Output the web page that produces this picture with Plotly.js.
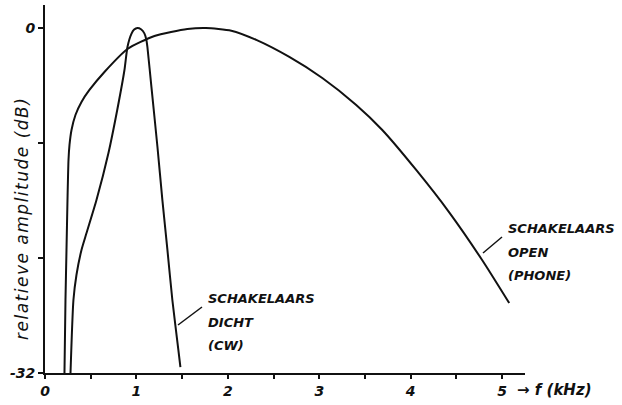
<!DOCTYPE html>
<html>
<head>
<meta charset="utf-8">
<script src="https://cdn.plot.ly/plotly-3.0.1.min.js"></script>
<style>html,body{margin:0;padding:0;background:#fff;}</style>
</head>
<body>
<div id="chart" style="width:622px;height:405px;"></div>
<script>
// Data (f in kHz, amplitude in dB)
const phoneX = [0.213, 0.224, 0.235, 0.246, 0.257, 0.268, 0.290, 0.333, 0.399, 0.486, 0.650, 0.902, 1.197, 1.557, 1.760, 2.038, 2.311, 2.672, 3.033, 3.404, 3.689, 4.060, 4.421, 4.781, 5.077];
const phoneY = [-32, -25.23, -20.59, -15.96, -12.24, -10.85, -9.46, -8.07, -6.86, -5.75, -4.08, -1.95, -0.74, -0.1, 0, -0.25, -1.11, -2.69, -4.64, -7.14, -9.46, -13.17, -17.1, -21.52, -25.51];

const cwX = [0.279, 0.311, 0.344, 0.399, 0.454, 0.563, 0.694, 0.790, 0.869, 0.902, 0.945, 0.975, 1.011, 1.050, 1.087, 1.109, 1.120, 1.164, 1.230, 1.284, 1.339, 1.393, 1.459, 1.481];
const cwY = [-32, -25.23, -22.91, -20.59, -19.02, -15.96, -11.60, -7.61, -3.90, -1.76, -0.55, -0.15, 0, -0.12, -0.5, -1.11, -1.76, -5.47, -11.04, -15.96, -20.59, -25.23, -29.87, -31.45];

const xTickVals = [0, 0.5, 1, 1.5, 2, 2.5, 3, 3.5, 4, 4.5, 5];
const xTickText = ['0', '', '1', '', '2', '', '3', '', '4', '', '5'];
const yTickVals = [0, -32/3, -64/3, -32];
const yTickText = ['0', '', '', '-32'];

const labelCW = ['SCHAKELAARS', 'DICHT', '(CW)'];
const labelPhone = ['SCHAKELAARS', 'OPEN', '(PHONE)'];

// geometry helpers (pixel -> paper)
const W = 622, H = 405, L = 45, R = 97, T = 5, B = 32;
const pw = W - L - R, ph = H - T - B;
const px = x => (x - L) / pw;
const py = y => 1 - (y - T) / ph;

const FONT = 'DejaVu Sans';
const ink = '#111';

const traces = [
  {x: phoneX, y: phoneY, mode: 'lines', line: {color: ink, width: 2, shape: 'spline', smoothing: 0.6}, hoverinfo: 'skip', showlegend: false},
  {x: cwX, y: cwY, mode: 'lines', line: {color: ink, width: 2, shape: 'spline', smoothing: 0.6}, hoverinfo: 'skip', showlegend: false}
];

const ann = [];
const lineFont = {family: FONT, size: 13, color: ink, style: 'italic', weight: 'bold'};
[298, 322, 345].forEach((y, i) => ann.push({xref: 'paper', yref: 'paper', x: px(206), y: py(y), xanchor: 'left', yanchor: 'middle', text: labelCW[i], showarrow: false, font: lineFont}));
[228, 252, 275].forEach((y, i) => ann.push({xref: 'paper', yref: 'paper', x: px(506), y: py(y), xanchor: 'left', yanchor: 'middle', text: labelPhone[i], showarrow: false, font: lineFont}));
ann.push({xref: 'paper', yref: 'paper', x: px(515), y: py(390), xanchor: 'left', yanchor: 'middle', text: '→ f (kHz)', showarrow: false, font: {family: FONT, size: 15, color: ink, style: 'italic', weight: 'bold'}});
ann.push({xref: 'paper', yref: 'paper', x: px(22), y: py(219), xanchor: 'center', yanchor: 'middle', textangle: -90, text: 'relatieve amplitude (dB)', showarrow: false, font: {family: FONT, size: 17, color: ink, style: 'italic'}});

const tickFont = {family: FONT, size: 14, color: ink, style: 'italic', weight: 'bold'};
const layout = {
  width: W, height: H,
  margin: {l: L, r: R, t: T, b: B, pad: 0},
  paper_bgcolor: '#fff', plot_bgcolor: '#fff',
  showlegend: false,
  xaxis: {
    range: [0, 5.25], showgrid: false, zeroline: false,
    showline: true, linecolor: ink, linewidth: 2,
    ticks: 'outside', ticklen: 4, tickwidth: 2, tickcolor: ink,
    tickvals: xTickVals, ticktext: xTickText, tickfont: tickFont
  },
  yaxis: {
    range: [-32, 2.13], showgrid: false, zeroline: false,
    showline: true, linecolor: ink, linewidth: 2,
    ticks: 'outside', ticklen: 5, tickwidth: 1.5, tickcolor: ink,
    tickvals: yTickVals, ticktext: yTickText, tickfont: tickFont
  },
  annotations: ann,
  shapes: [
    {type: 'line', xref: 'paper', yref: 'paper', x0: px(178), y0: py(325), x1: px(202), y1: py(307), line: {color: ink, width: 1.5}},
    {type: 'line', xref: 'paper', yref: 'paper', x0: px(483), y0: py(253), x1: px(502), y1: py(237), line: {color: ink, width: 1.5}}
  ]
};

Plotly.newPlot('chart', traces, layout, {staticPlot: true, displayModeBar: false}).then(() => {
  document.querySelectorAll('.annotation-text').forEach(e => {
    if (e.textContent.indexOf('relatieve') === 0) e.style.letterSpacing = '1.5px';
  });
});
</script>
</body>
</html>
